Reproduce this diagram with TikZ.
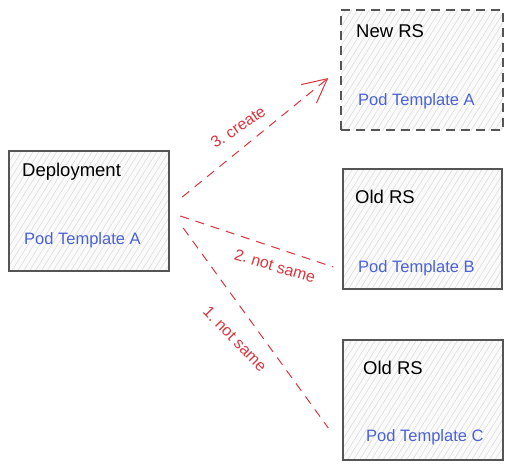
\documentclass[tikz,border=0pt]{standalone}
\usepackage{fontspec}
\setmainfont{Liberation Sans}
\usetikzlibrary{arrows.meta,patterns.meta,calc}
\definecolor{boxline}{HTML}{555555}
\definecolor{podblue}{HTML}{4A62D8}
\definecolor{linkred}{HTML}{D9363E}
\frenchspacing
\tikzset{
  box/.style={draw=boxline,line width=1.4pt,minimum width=#1,minimum height=120pt,inner sep=0pt,
    preaction={fill=gray!4},pattern={Lines[angle=58,distance=5pt,line width=0.5pt]},pattern color=gray!30},
  title/.style={anchor=west,inner sep=0pt,font=\fontsize{18.5}{18.5}\selectfont,text=black},
  pod/.style={anchor=west,inner sep=0pt,font=\fontsize{16.5}{16.5}\selectfont,text=podblue},
  link/.style={draw=linkred,line width=1pt,dash pattern=on 9pt off 7pt},
  lbl/.style={inner sep=0pt,font=\fontsize{16}{16}\selectfont,text=linkred}
}
\begin{document}
\begin{tikzpicture}[x=1pt,y=-1pt]
\useasboundingbox (0,0) rectangle (512,469);
\node[box=160pt] (dep) at (89,211) {};
\node[box=162pt,dash pattern=on 9pt off 6pt] (new) at (422,70) {};
\node[box=159pt] (oldb) at (422.5,229) {};
\node[box=160pt] (oldc) at (423,400) {};

\node[title] (deptitle) at (22,172) {Deployment};
\node[pod] (deppod) at (24,240) {Pod Template A};
\node[title] (newtitle) at (356,31) {New RS};
\node[pod] (newpod) at (358,101) {Pod Template A};
\node[title] (oldbtitle) at (355,197) {Old RS};
\node[pod] (oldbpod) at (358,268) {Pod Template B};
\node[title] (oldctitle) at (363,368) {Old RS};
\node[pod] (oldcpod) at (366,437) {Pod Template C};

\coordinate (s3) at ($(dep.east)+(13,-14)$);
\coordinate (s2) at ($(dep.east)+(11,5)$);
\coordinate (s1) at ($(dep.east)+(14,17)$);
\coordinate (e3) at ($(new.west)+(-12,8)$);
\coordinate (e2) at ($(oldb.west)+(-9,38)$);
\coordinate (e1) at ($(oldc.west)+(-14,28)$);

\draw[link,-{Straight Barb[length=24pt,width=24pt,line width=1pt]}] (s3) -- (e3);
\draw[link] (s2) -- (e2);
\draw[link] (s1) -- (e1);

\node[lbl,rotate=34] (l3) at (238,127) {3. create};
\node[lbl,rotate=-17] (l2) at (275,266) {2. not same};
\node[lbl,rotate=-46] (l1) at (235,339) {1. not same};
\end{tikzpicture}
\end{document}
